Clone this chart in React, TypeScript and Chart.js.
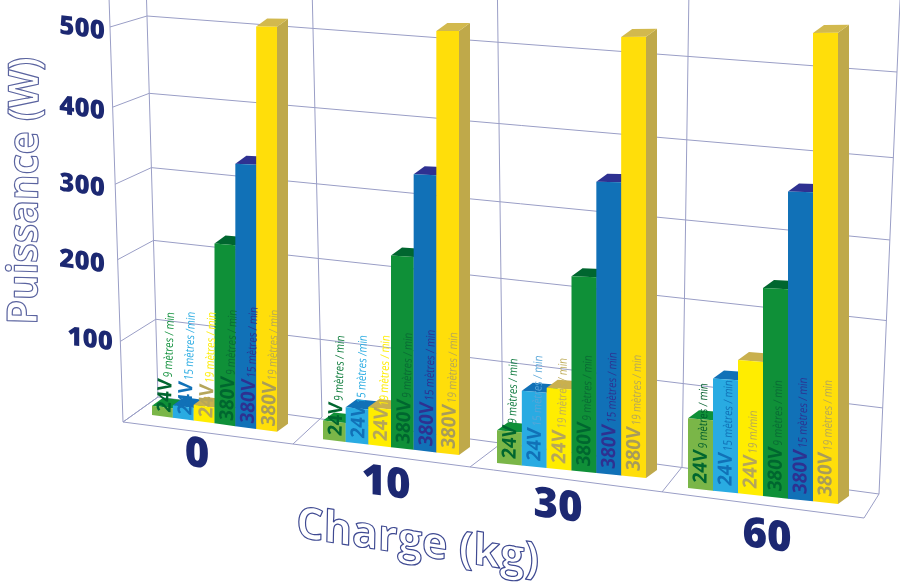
import React, { useEffect, useRef } from "react";
import { Chart, registerables } from "chart.js";

Chart.register(...registerables);

// ---- data ----
const categories = ["0", "10", "30", "60"];
const watt24v9 = [12, 23, 38, 77];
const watt24v15 = [16, 42, 86, 123];
const watt24v19 = [20, 45, 92, 145];
const watt380v9 = [226, 229, 221, 225];
const watt380v15 = [328, 327, 329, 330];
const watt380v19 = [500, 497, 492, 500];
const voltLabels = ["24V", "24V", "24V", "380V", "380V", "380V"];
const seriesNames = ["24V 9 m/min", "24V 15 m/min", "24V 19 m/min", "380V 9 m/min", "380V 15 m/min", "380V 19 m/min"];
const rate24v9 = ["9 mètres / min", "9 mètres / min", "9 mètres / min", "9 mètres / min"];
const rate24v15 = ["15 mètres /min", "15 mètres /min", "15 mètres / min", "15 mètres / min"];
const rate24v19 = ["19 mètres / min", "19 mètres / min", "19 mètres / min", "19 m/min"];
const rate380v9 = ["9 mètres / min", "9 mètres / min", "9 mètres / min", "9 mètres / min"];
const rate380v15 = ["15 mètres / min", "15 mètres / min", "15 mètres / min", "15 mètres / min"];
const rate380v19 = ["19 mètres / min", "19 mètres / min", "19 mètres / min", "19 mètres / min"];
const yTitle = "Puissance (W)";
const xTitle = "Charge (kg)";

// ---- styles ----
const FONT = '"Open Sans"';
const NAVY = "#1c2872";
const GRID = "#9a9ec6";
const OUTLINE = "#5a639f";
const frontColors = ["#7ab648", "#29abe2", "#ffed00", "#0f9038", "#1171b7", "#ffde0a"];
const topColors = ["#0f9038", "#1171b7", "#c9b04e", "#00662f", "#2e3191", "#d2b94e"];
const sideColors = ["#0f9038", "#1171b7", "#bfa94a", "#00662f", "#2e3191", "#bfa94a"];
const voltColors = ["#00662f", "#1171b7", "#b5a65a", "#00662f", "#2e3191", "#a89c5a"];
const rateColors = [
  ["#0f8f3a", "#0a7a38", "#0f7a3e", "#005e2c"],
  ["#29abe2", "#29abe2", "#58a6d8", "#1171b7"],
  ["#ffed00", "#ffed00", "#c0ae5c", "#b5a65a"],
  ["#0a6a35", "#0a6a35", "#0a6a35", "#0a6a35"],
  ["#2e3191", "#2e3191", "#2e3191", "#2e3191"],
  ["#b5a65a", "#b5a65a", "#b5a65a", "#b5a65a"],
];

// ---- projection calibration: flat chart area -> picture plane ----
const CATEGORY_FILL = 0.7;
const groupEdgeX = [152, 277, 323, 459, 497, 646, 688, 838];
const groupEdgeBase = [415, 431.7, 439.3, 455, 463, 478, 488, 504];
const heightAt500 = (x: number) => 405 + 0.118 * (x - 277);
const DEPTH_X = 11;
const DEPTH_Y = -8;
const wallBottom = [[158, 397], [322, 417], [503, 442], [682, 467], [879, 494]];
const wallTop = [[147, 16], [313, 28.5], [498, 42.5], [688, 57], [897, 72]];
const floorFront = [[123, 422], [293, 444], [470, 467], [662, 492], [864, 518]];
const frontEdgeTop = [110, 27];
const heightMap = [0, 0.204, 0.411, 0.602, 0.797, 1];
const tickRight: Record<number, number> = { 100: 113, 200: 105, 300: 105, 400: 105, 500: 105 };
const tickMiddleY = [339, 261, 185, 108, 28];
const categoryAnchor = [[197, 455], [386, 484], [558, 507], [767, 537]];
const LABEL_INSET = 18.5;

const lerp = (a: number, b: number, t: number) => a + (b - a) * t;

function edgeKnots(n: number) {
  const k: number[] = [];
  const margin = (1 - CATEGORY_FILL) / 2;
  for (let i = 0; i < n; i++) k.push((i + margin) / n, (i + 1 - margin) / n);
  return k;
}
function interp(knots: number[], vals: number[], u: number) {
  let i = 0;
  while (i < knots.length - 2 && u > knots[i + 1]) i++;
  return lerp(vals[i], vals[i + 1], (u - knots[i]) / (knots[i + 1] - knots[i]));
}
function warpHeight(v: number) {
  if (v >= 1) return v;
  const s = v * (heightMap.length - 1);
  const i = Math.min(Math.floor(s), heightMap.length - 2);
  return lerp(heightMap[i], heightMap[i + 1], s - i);
}
const wallPoint = (k: number, v: number): [number, number] => {
  const w = warpHeight(v);
  return [lerp(wallBottom[k][0], wallTop[k][0], w), lerp(wallBottom[k][1], wallTop[k][1], w)];
};
const frontEdgePoint = (v: number): [number, number] => {
  const w = warpHeight(v);
  return [lerp(floorFront[0][0], frontEdgeTop[0], w), lerp(floorFront[0][1], frontEdgeTop[1], w)];
};

function poly(ctx: CanvasRenderingContext2D, pts: number[][], fill: string) {
  ctx.beginPath();
  pts.forEach((p, i) => (i ? ctx.lineTo(p[0], p[1]) : ctx.moveTo(p[0], p[1])));
  ctx.closePath();
  ctx.fillStyle = fill;
  ctx.fill();
}
function line(ctx: CanvasRenderingContext2D, a: number[], b: number[]) {
  ctx.beginPath();
  ctx.moveTo(a[0], a[1]);
  ctx.lineTo(b[0], b[1]);
  ctx.stroke();
}

const perspectivePlugin = {
  id: "perspective",
  beforeDatasetDraw() {
    return false;
  },
  afterDatasetsDraw(chart: any) {
    const ctx: CanvasRenderingContext2D = chart.ctx;
    const area = chart.chartArea;
    const xs = chart.scales.x;
    const ys = chart.scales.y;
    const toU = (px: number) => (px - area.left) / (area.right - area.left);
    const toV = (py: number) => (area.bottom - py) / (area.bottom - area.top);
    const n = categories.length;
    const knots = edgeKnots(n);

    // walls and floor
    ctx.save();
    ctx.strokeStyle = GRID;
    ctx.lineWidth = 1;
    for (let k = 0; k <= n; k++) {
      line(ctx, wallPoint(k, 0), wallPoint(k, 1.2));
      line(ctx, floorFront[k], wallBottom[k]);
    }
    line(ctx, floorFront[0], frontEdgePoint(1.07));
    line(ctx, floorFront[0], floorFront[n]);
    ys.ticks.forEach((t: any) => {
      const v = toV(ys.getPixelForValue(t.value));
      line(ctx, frontEdgePoint(v), wallPoint(0, v));
      line(ctx, wallPoint(0, v), wallPoint(n, v));
    });
    ctx.restore();

    // bars
    const rects: any[] = [];
    chart.data.datasets.forEach((ds: any, d: number) => {
      chart.getDatasetMeta(d).data.forEach((bar: any, c: number) => {
        const left = toU(bar.x - bar.width / 2);
        const right = toU(bar.x + bar.width / 2);
        const top = toV(bar.y);
        const xl = interp(knots, groupEdgeX, left);
        const xr = interp(knots, groupEdgeX, right);
        const bl = interp(knots, groupEdgeBase, left);
        const br = interp(knots, groupEdgeBase, right);
        const tl = bl - top * heightAt500(xl);
        const tr = br - top * heightAt500(xr);
        poly(ctx, [[xr, tr], [xr + DEPTH_X, tr + DEPTH_Y], [xr + DEPTH_X, br + DEPTH_Y], [xr, br]], sideColors[d]);
        poly(ctx, [[xl, tl], [xl + DEPTH_X, tl + DEPTH_Y], [xr + DEPTH_X, tr + DEPTH_Y], [xr, tr]], topColors[d]);
        poly(ctx, [[xl, tl], [xr, tr], [xr, br], [xl, bl]], frontColors[d]);
        rects.push({ d, c, xl, xr, bl, br, rate: ds.rates[c] });
      });
    });

    // labels written up each bar
    ctx.textBaseline = "alphabetic";
    ctx.textAlign = "left";
    rects.forEach((r) => {
      const bx = r.xl + LABEL_INSET;
      const t = (bx - r.xl) / (r.xr - r.xl);
      const by = lerp(r.bl, r.br, t) - 4 - (2.5 * bx) / 900;
      const lean = 0.045 * (1 - bx / 900);
      ctx.save();
      ctx.transform(lean * 0.95, -0.95, 1, 0.12, bx, by);
      ctx.font = `700 19.5px ${FONT}`;
      ctx.fillStyle = voltColors[r.d];
      ctx.fillText(voltLabels[r.d], 0, 0);
      const w = ctx.measureText(voltLabels[r.d]).width * 0.95;
      ctx.restore();
      ctx.save();
      ctx.transform(lean * 0.8, -0.8, 1, 0.12, bx + lean * (w + 2), by - (w + 2));
      ctx.font = `400 12px ${FONT}`;
      ctx.fillStyle = rateColors[r.d][r.c];
      ctx.fillText(r.rate, 0, 0);
      ctx.restore();
    });

    // value axis labels
    ctx.textBaseline = "middle";
    ctx.textAlign = "right";
    ctx.fillStyle = NAVY;
    ys.ticks
      .filter((t: any) => t.value > 0)
      .forEach((t: any, i: number) => {
        ctx.save();
        ctx.transform(1, 0.13, 0, 1, tickRight[t.value], tickMiddleY[i] + 4);
        ctx.font = `800 26px ${FONT}`;
        ctx.fillText(String(t.value), 0, 0);
        ctx.restore();
      });

    // category labels
    ctx.textAlign = "center";
    xs.getLabels().forEach((label: string, i: number) => {
      ctx.save();
      ctx.transform(1, 0.13, 0, 1, categoryAnchor[i][0], categoryAnchor[i][1]);
      ctx.font = `800 42px ${FONT}`;
      ctx.fillText(label, 0, 0);
      ctx.restore();
    });

    // outlined axis titles
    ctx.textBaseline = "alphabetic";
    ctx.textAlign = "left";
    ctx.fillStyle = "#ffffff";
    ctx.lineWidth = 1.2;
    ctx.lineJoin = "round";
    ctx.strokeStyle = OUTLINE;
    ctx.save();
    ctx.transform(0.005, -0.93, 1, 0.03, 37, 325);
    ctx.font = `700 42px ${FONT}`;
    ctx.fillText(yTitle, 0, 0);
    ctx.strokeText(yTitle, 0, 0);
    ctx.restore();
    ctx.strokeStyle = "#3f4a92";
    ctx.save();
    ctx.transform(0.98, 0.15, -0.02, 1, 296, 537);
    ctx.font = `700 44px ${FONT}`;
    ctx.fillText(xTitle, 0, 0);
    ctx.strokeText(xTitle, 0, 0);
    ctx.restore();
  },
};

export default function App() {
  const ref = useRef<HTMLCanvasElement>(null);
  useEffect(() => {
    const series = [watt24v9, watt24v15, watt24v19, watt380v9, watt380v15, watt380v19];
    const rates = [rate24v9, rate24v15, rate24v19, rate380v9, rate380v15, rate380v19];
    const chart = new Chart(ref.current as HTMLCanvasElement, {
      type: "bar",
      data: {
        labels: categories,
        datasets: series.map((data, i) => ({
          label: seriesNames[i],
          data,
          rates: rates[i],
          backgroundColor: frontColors[i],
          categoryPercentage: CATEGORY_FILL,
          barPercentage: 1,
        })) as any,
      },
      options: {
        responsive: false,
        animation: false,
        devicePixelRatio: 1,
        layout: { padding: 0 },
        plugins: { legend: { display: false }, tooltip: { enabled: false }, title: { display: false } },
        scales: {
          x: { display: false, title: { display: false, text: xTitle } },
          y: {
            display: false,
            min: 0,
            max: 500,
            ticks: { stepSize: 100 },
            title: { display: false, text: yTitle },
          },
        },
      },
      plugins: [perspectivePlugin],
    } as any);
    return () => chart.destroy();
  }, []);
  return (
    <canvas
      ref={ref}
      width={900}
      height={582}
      style={{ position: "absolute", left: 0, top: 0, width: 900, height: 582, background: "#fff" }}
    />
  );
}
